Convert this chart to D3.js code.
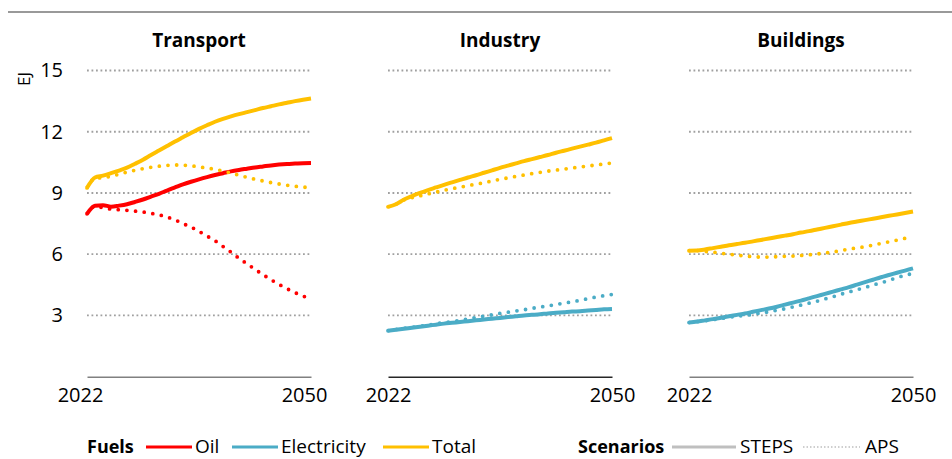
<!DOCTYPE html>
<html>
<head>
<meta charset="utf-8">
<script src="https://cdn.jsdelivr.net/npm/d3@7"></script>
<style>
  html, body { margin: 0; padding: 0; background: #fff; }
  svg { display: block; font-family: "Open Sans", "Noto Sans", sans-serif; }
</style>
</head>
<body>
<svg id="chart" width="952" height="459"></svg>
<script>
// ---------- DATA ----------
const years = d3.range(2022, 2051);
const xTickLabels = [2022, 2050];
const yTicks = [3, 6, 9, 12, 15];
const yUnit = "EJ";
const sectors = ["Transport", "Industry", "Buildings"];

const transportOilSTEPS = [7.98, 8.38, 8.40, 8.33, 8.38, 8.45, 8.56, 8.68, 8.82, 8.96, 9.12, 9.27, 9.42, 9.55, 9.67, 9.78, 9.88, 9.97, 10.06, 10.13, 10.19, 10.25, 10.30, 10.35, 10.39, 10.42, 10.44, 10.46, 10.47];
const transportOilAPS = [7.98, 8.35, 8.28, 8.21, 8.18, 8.15, 8.11, 8.07, 8.00, 7.93, 7.82, 7.68, 7.50, 7.33, 7.12, 6.89, 6.66, 6.38, 6.10, 5.80, 5.53, 5.26, 5.00, 4.75, 4.52, 4.31, 4.12, 3.95, 3.82];
const transportTotalSTEPS = [9.25, 9.76, 9.85, 9.97, 10.10, 10.24, 10.43, 10.63, 10.86, 11.08, 11.30, 11.52, 11.73, 11.94, 12.14, 12.32, 12.49, 12.63, 12.75, 12.86, 12.96, 13.06, 13.16, 13.25, 13.34, 13.42, 13.50, 13.57, 13.63];
const transportTotalAPS = [9.25, 9.72, 9.75, 9.82, 9.92, 10.02, 10.11, 10.19, 10.26, 10.31, 10.35, 10.37, 10.36, 10.33, 10.28, 10.22, 10.16, 10.07, 9.98, 9.87, 9.77, 9.67, 9.59, 9.51, 9.44, 9.38, 9.33, 9.29, 9.26];

const industryElecSTEPS = [2.25, 2.30, 2.35, 2.40, 2.45, 2.50, 2.55, 2.60, 2.64, 2.68, 2.72, 2.76, 2.80, 2.84, 2.88, 2.92, 2.96, 3.00, 3.03, 3.06, 3.10, 3.13, 3.16, 3.19, 3.21, 3.24, 3.27, 3.30, 3.32];
const industryElecAPS = [2.25, 2.31, 2.37, 2.42, 2.47, 2.53, 2.59, 2.65, 2.70, 2.76, 2.83, 2.90, 2.97, 3.03, 3.10, 3.16, 3.22, 3.28, 3.35, 3.41, 3.47, 3.54, 3.60, 3.67, 3.74, 3.82, 3.90, 3.97, 4.03];
const industryTotalSTEPS = [8.32, 8.45, 8.68, 8.85, 9.00, 9.14, 9.27, 9.40, 9.52, 9.64, 9.76, 9.87, 9.99, 10.11, 10.23, 10.34, 10.45, 10.56, 10.66, 10.76, 10.86, 10.97, 11.07, 11.17, 11.27, 11.37, 11.47, 11.58, 11.69];
const industryTotalAPS = [8.32, 8.45, 8.66, 8.77, 8.86, 8.95, 9.04, 9.13, 9.21, 9.28, 9.36, 9.43, 9.50, 9.59, 9.67, 9.74, 9.81, 9.88, 9.95, 10.01, 10.07, 10.12, 10.17, 10.22, 10.27, 10.32, 10.37, 10.42, 10.47];

const buildingsElecSTEPS = [2.65, 2.70, 2.76, 2.82, 2.89, 2.96, 3.03, 3.10, 3.18, 3.26, 3.34, 3.43, 3.53, 3.63, 3.73, 3.84, 3.95, 4.06, 4.17, 4.28, 4.39, 4.51, 4.63, 4.75, 4.87, 4.98, 5.09, 5.20, 5.31];
const buildingsElecAPS = [2.65, 2.69, 2.74, 2.79, 2.85, 2.91, 2.97, 2.99, 3.06, 3.12, 3.18, 3.26, 3.33, 3.42, 3.51, 3.60, 3.70, 3.81, 3.92, 4.04, 4.15, 4.26, 4.37, 4.49, 4.60, 4.72, 4.85, 4.97, 5.05];
const buildingsTotalSTEPS = [6.17, 6.18, 6.23, 6.30, 6.37, 6.44, 6.50, 6.56, 6.63, 6.70, 6.77, 6.84, 6.91, 6.98, 7.06, 7.13, 7.21, 7.29, 7.37, 7.45, 7.53, 7.60, 7.67, 7.74, 7.81, 7.88, 7.95, 8.02, 8.09];
const buildingsTotalAPS = [6.17, 6.18, 6.14, 6.10, 6.05, 6.00, 5.96, 5.91, 5.88, 5.86, 5.86, 5.88, 5.90, 5.91, 5.94, 5.97, 6.01, 6.06, 6.11, 6.18, 6.25, 6.31, 6.37, 6.45, 6.53, 6.61, 6.69, 6.78, 6.84];

const fuels = ["Oil", "Electricity", "Total"];
const scenarios = ["STEPS", "APS"];
const fuelColors = { Oil: "#FF0000", Electricity: "#4BACC6", Total: "#FFC000" };

// ---------- BUILD ----------
const panels = [
  { title: sectors[0], series: [
    { fuel: "Oil", scen: "STEPS", values: transportOilSTEPS },
    { fuel: "Total", scen: "STEPS", values: transportTotalSTEPS },
    { fuel: "Oil", scen: "APS", values: transportOilAPS },
    { fuel: "Total", scen: "APS", values: transportTotalAPS } ] },
  { title: sectors[1], series: [
    { fuel: "Electricity", scen: "STEPS", values: industryElecSTEPS },
    { fuel: "Total", scen: "STEPS", values: industryTotalSTEPS },
    { fuel: "Electricity", scen: "APS", values: industryElecAPS },
    { fuel: "Total", scen: "APS", values: industryTotalAPS } ] },
  { title: sectors[2], series: [
    { fuel: "Electricity", scen: "STEPS", values: buildingsElecSTEPS },
    { fuel: "Total", scen: "STEPS", values: buildingsTotalSTEPS },
    { fuel: "Electricity", scen: "APS", values: buildingsElecAPS },
    { fuel: "Total", scen: "APS", values: buildingsTotalAPS } ] }
];

const svg = d3.select("#chart");
const panelLeft = [87, 388, 689];
const panelWidth = 224;
const axisColors = ["#808080", "#262626", "#808080"];
const y = d3.scaleLinear().domain([0, 15]).range([376.7, 70.5]);

// top rule
svg.append("line").attr("x1", 8).attr("x2", 952).attr("y1", 12).attr("y2", 12)
  .attr("stroke", "#999").attr("stroke-width", 2);

panels.forEach((p, i) => {
  const x = d3.scaleLinear().domain([years[0], years[years.length - 1]])
    .range([panelLeft[i], panelLeft[i] + panelWidth]);
  const g = svg.append("g");

  // gridlines
  g.selectAll(".grid").data(yTicks).join("line")
    .attr("x1", x.range()[0]).attr("x2", x.range()[1])
    .attr("y1", d => y(d)).attr("y2", d => y(d))
    .attr("stroke", "#a0a0a0").attr("stroke-width", 1.8)
    .attr("stroke-dasharray", "1.8 2.7");

  // x axis
  const xAxis = d3.axisBottom(x).tickValues(xTickLabels).tickFormat(d3.format("d")).tickSize(0).tickPadding(11);
  const ax = g.append("g").attr("transform", `translate(0,${y(0)})`).call(xAxis);
  ax.select(".domain").attr("stroke", axisColors[i]).attr("stroke-width", 1.6);
  ax.selectAll("text").attr("font-size", 20).attr("fill", "#000")
    .attr("font-family", "'Open Sans', sans-serif")
    .attr("dx", i === 0 ? -7 : 0);

  // y axis labels only on first panel
  if (i === 0) {
    const yAxis = d3.axisLeft(y).tickValues(yTicks).tickSize(0).tickPadding(24);
    const ay = g.append("g").attr("transform", `translate(${x.range()[0]},0)`).call(yAxis);
    ay.select(".domain").remove();
    ay.selectAll("text").attr("font-size", 20).attr("fill", "#000")
      .attr("font-family", "'Open Sans', sans-serif");
    g.append("text").attr("transform", "translate(30,79) rotate(-90)")
      .attr("text-anchor", "middle").attr("font-size", 17).text(yUnit);
  }

  // title
  g.append("text").attr("x", (x.range()[0] + x.range()[1]) / 2).attr("y", 47)
    .attr("text-anchor", "middle").attr("font-weight", "bold").attr("font-size", 19)
    .text(p.title);

  // lines
  const line = d3.line().x((d, k) => x(years[k])).y(d => y(d)).curve(d3.curveMonotoneX);
  p.series.forEach(s => {
    const path = g.append("path").datum(s.values).attr("d", line)
      .attr("fill", "none").attr("stroke", fuelColors[s.fuel]);
    if (s.scen === "STEPS") {
      path.attr("stroke-width", 4).attr("stroke-linejoin", "round");
    } else {
      path.attr("stroke-width", 3.8).attr("stroke-linecap", "round")
        .attr("stroke-dasharray", "0 8.7");
    }
  });
});

// ---------- LEGEND ----------
const leg = svg.append("g");
const ly = 447, lty = 453;
leg.append("text").attr("x", 87).attr("y", lty).attr("font-weight", "bold").attr("font-size", 18).text("Fuels");
const fuelLegX = [146, 232, 383];
fuels.forEach((f, k) => {
  leg.append("line").attr("x1", fuelLegX[k]).attr("x2", fuelLegX[k] + 46)
    .attr("y1", ly).attr("y2", ly).attr("stroke", fuelColors[f]).attr("stroke-width", 3);
  leg.append("text").attr("x", fuelLegX[k] + 49).attr("y", lty).attr("font-size", 19).text(f);
});
leg.append("text").attr("x", 578).attr("y", lty).attr("font-weight", "bold").attr("font-size", 18).text("Scenarios");
const scenLegX = [672, 803];
scenarios.forEach((s, k) => {
  const l = leg.append("line").attr("x1", scenLegX[k]).attr("x2", scenLegX[k] + (k === 0 ? 64 : 57))
    .attr("y1", ly).attr("y2", ly).attr("stroke", "#bfbfbf").attr("stroke-width", k === 0 ? 3 : 1.5);
  if (k === 1) l.attr("stroke-dasharray", "1.5 2");
  leg.append("text").attr("x", scenLegX[k] + (k === 0 ? 68 : 62)).attr("y", lty).attr("font-size", 19).text(s);
});
</script>
</body>
</html>
